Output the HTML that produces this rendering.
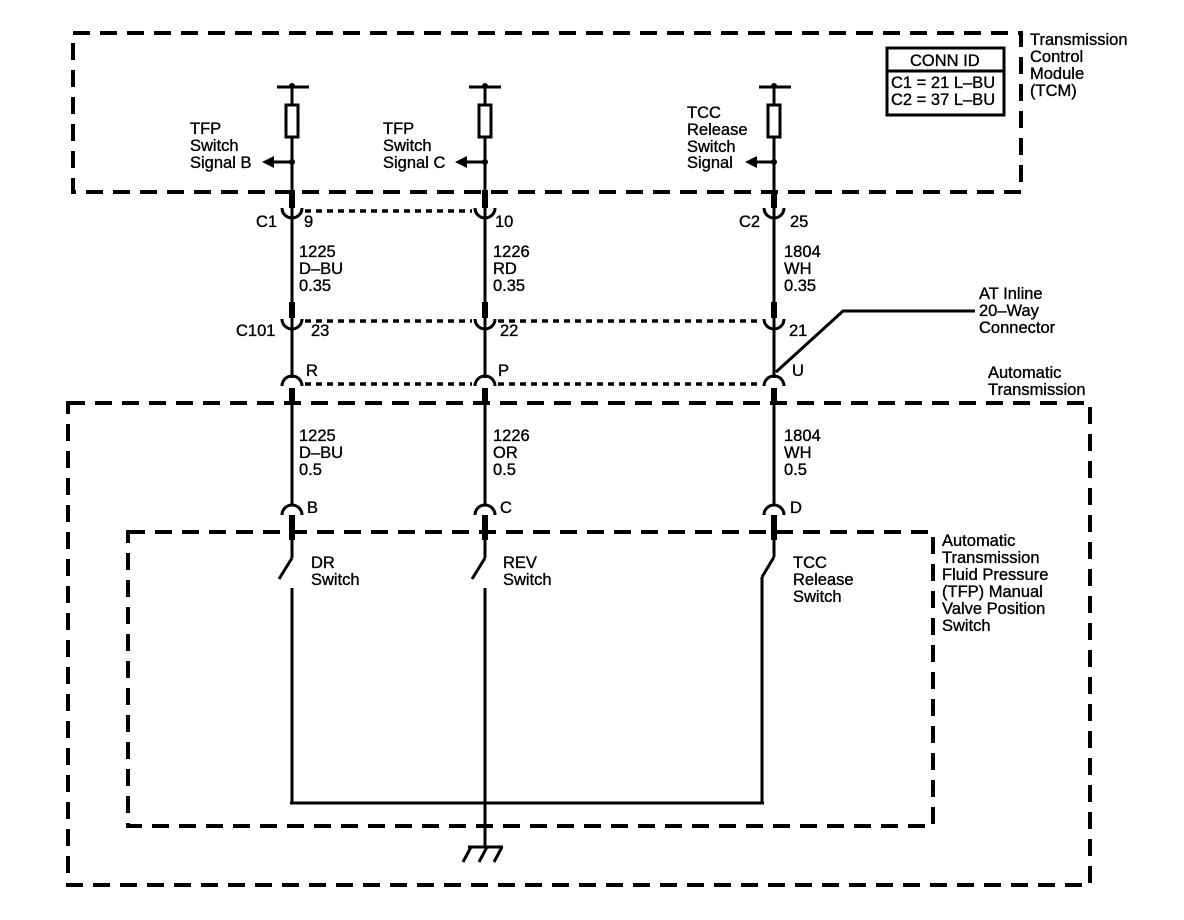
<!DOCTYPE html>
<html><head><style>
html,body{margin:0;padding:0;background:#fff;}
svg{display:block;}
text{font-family:"Liberation Sans",sans-serif;font-size:16.5px;fill:#000;stroke:#000;stroke-width:0.35;}
</style></head><body>
<svg width="1184" height="920" viewBox="0 0 1184 920" xmlns="http://www.w3.org/2000/svg">
<g fill="none" stroke="#000">
 <rect x="73" y="33" width="948" height="159" stroke-width="4" stroke-dasharray="17,10"/>
 <rect x="68" y="403" width="1022" height="482" stroke-width="4" stroke-dasharray="17,10"/>
 <rect x="128" y="532" width="805" height="294" stroke-width="4" stroke-dasharray="17,10"/>
 <g stroke-width="3.5" stroke-dasharray="6,5">
  <line x1="305" y1="211" x2="472" y2="211"/>
  <line x1="305" y1="321" x2="472" y2="321"/>
  <line x1="498" y1="321" x2="762" y2="321"/>
  <line x1="305" y1="384" x2="472" y2="384"/>
  <line x1="498" y1="384" x2="762" y2="384"/>
 </g>
</g>
<g fill="none" stroke="#000">
 <g stroke-width="3">
  <line x1="277" y1="87" x2="309" y2="87"/><line x1="292" y1="87" x2="292" y2="105"/>
  <rect x="286" y="105" width="12" height="32"/>
  <line x1="292" y1="137" x2="292" y2="200"/><line x1="292" y1="162" x2="272" y2="162"/>
  <line x1="469" y1="87" x2="501" y2="87"/><line x1="485" y1="87" x2="485" y2="105"/>
  <rect x="479" y="105" width="12" height="32"/>
  <line x1="485" y1="137" x2="485" y2="200"/><line x1="485" y1="162" x2="465" y2="162"/>
  <line x1="759" y1="87" x2="791" y2="87"/><line x1="774" y1="87" x2="774" y2="105"/>
  <rect x="768" y="105" width="12" height="32"/>
  <line x1="774" y1="137" x2="774" y2="200"/><line x1="774" y1="162" x2="754" y2="162"/>
 </g>
</g>
<g fill="#000">
 <circle cx="292" cy="86" r="3"/><circle cx="485" cy="86" r="3"/><circle cx="774" cy="86" r="3"/>
 <circle cx="292" cy="162" r="3"/><circle cx="485" cy="162" r="3"/><circle cx="774" cy="162" r="3"/>
 <polygon points="262,162 274,156 274,168"/><polygon points="455,162 467,156 467,168"/><polygon points="745,162 757,156 757,168"/>
</g>
<g fill="none" stroke="#000">
 <g stroke-width="6">
  <line x1="292" y1="190" x2="292" y2="208"/><line x1="485" y1="190" x2="485" y2="208"/><line x1="774" y1="190" x2="774" y2="208"/>
  <line x1="292" y1="302" x2="292" y2="318"/><line x1="485" y1="302" x2="485" y2="318"/><line x1="774" y1="302" x2="774" y2="318"/>
  <line x1="292" y1="388" x2="292" y2="402"/><line x1="485" y1="388" x2="485" y2="402"/><line x1="774" y1="388" x2="774" y2="402"/>
  <line x1="292" y1="515" x2="292" y2="540"/><line x1="485" y1="515" x2="485" y2="540"/><line x1="774" y1="515" x2="774" y2="540"/>
 </g>
 <g stroke-width="3">
  <line x1="292" y1="208" x2="292" y2="302"/><line x1="485" y1="208" x2="485" y2="302"/><line x1="774" y1="208" x2="774" y2="302"/>
  <line x1="292" y1="318" x2="292" y2="378"/><line x1="485" y1="318" x2="485" y2="378"/><line x1="774" y1="318" x2="774" y2="378"/>
  <line x1="292" y1="402" x2="292" y2="505"/><line x1="485" y1="402" x2="485" y2="505"/><line x1="774" y1="402" x2="774" y2="505"/>
  <path d="M282,208 A10,10 0 0 0 302,208"/><path d="M475,208 A10,10 0 0 0 495,208"/><path d="M764,208 A10,10 0 0 0 784,208"/>
  <path d="M282,319 A10,10 0 0 0 302,319"/><path d="M475,319 A10,10 0 0 0 495,319"/><path d="M764,319 A10,10 0 0 0 784,319"/>
  <path d="M282,386 A10,10 0 0 1 302,386"/><path d="M475,386 A10,10 0 0 1 495,386"/><path d="M764,386 A10,10 0 0 1 784,386"/>
  <path d="M282,515 A10,10 0 0 1 302,515"/><path d="M475,515 A10,10 0 0 1 495,515"/><path d="M764,515 A10,10 0 0 1 784,515"/>
  <line x1="292" y1="540" x2="292" y2="558"/><line x1="292" y1="558" x2="279" y2="579"/>
  <line x1="292" y1="588" x2="292" y2="804"/>
  <line x1="485" y1="540" x2="485" y2="558"/><line x1="485" y1="558" x2="472" y2="579"/>
  <line x1="485" y1="588" x2="485" y2="847"/>
  <line x1="774" y1="540" x2="774" y2="557"/><line x1="774" y1="557" x2="762" y2="577"/>
  <line x1="762" y1="577" x2="762" y2="804"/>
  <line x1="290" y1="803" x2="764" y2="803"/>
  <line x1="468" y1="847" x2="503" y2="847"/>
  <line x1="471" y1="847" x2="463" y2="862"/><line x1="487" y1="847" x2="479" y2="862"/><line x1="502" y1="847" x2="494" y2="862"/>
  <polyline points="776,372 843,311 975,311"/>
  <rect x="887" y="48" width="117" height="67"/>
  <line x1="887" y1="71" x2="1004" y2="71"/>
 </g>
</g>
<text x="190" y="134">TFP</text><text x="190" y="151">Switch</text><text x="190" y="168">Signal B</text>
<text x="383" y="134">TFP</text><text x="383" y="151">Switch</text><text x="383" y="168">Signal C</text>
<text x="687" y="118">TCC</text><text x="687" y="135">Release</text><text x="687" y="152">Switch</text><text x="687" y="168">Signal</text>
<text x="910" y="66">CONN ID</text>
<text x="891" y="88">C1 = 21 L–BU</text><text x="891" y="105">C2 = 37 L–BU</text>
<text x="1030" y="45">Transmission</text><text x="1030" y="62">Control</text><text x="1030" y="79">Module</text><text x="1030" y="96">(TCM)</text>
<text x="256" y="227">C1</text><text x="304" y="227">9</text>
<text x="495" y="227">10</text>
<text x="739" y="227">C2</text><text x="790" y="227">25</text>
<text x="299" y="257">1225</text><text x="299" y="274">D–BU</text><text x="299" y="291">0.35</text>
<text x="493" y="257">1226</text><text x="493" y="274">RD</text><text x="493" y="291">0.35</text>
<text x="784" y="257">1804</text><text x="784" y="274">WH</text><text x="784" y="291">0.35</text>
<text x="236" y="336">C101</text><text x="311" y="336">23</text>
<text x="500" y="336">22</text><text x="789" y="336">21</text>
<text x="979" y="299">AT Inline</text><text x="979" y="316">20–Way</text><text x="979" y="333">Connector</text>
<text x="306" y="376">R</text><text x="498" y="376">P</text><text x="792" y="376">U</text>
<text x="988" y="378">Automatic</text><text x="988" y="395">Transmission</text>
<text x="299" y="441">1225</text><text x="299" y="458">D–BU</text><text x="299" y="475">0.5</text>
<text x="493" y="441">1226</text><text x="493" y="458">OR</text><text x="493" y="475">0.5</text>
<text x="784" y="441">1804</text><text x="784" y="458">WH</text><text x="784" y="475">0.5</text>
<text x="307" y="513">B</text><text x="500" y="513">C</text><text x="790" y="513">D</text>
<text x="311" y="568">DR</text><text x="311" y="585">Switch</text>
<text x="503" y="568">REV</text><text x="503" y="585">Switch</text>
<text x="793" y="568">TCC</text><text x="793" y="585">Release</text><text x="793" y="602">Switch</text>
<text x="942" y="546">Automatic</text><text x="942" y="563">Transmission</text><text x="942" y="580">Fluid Pressure</text>
<text x="942" y="597">(TFP) Manual</text><text x="942" y="614">Valve Position</text><text x="942" y="631">Switch</text>
</svg>
</body></html>
